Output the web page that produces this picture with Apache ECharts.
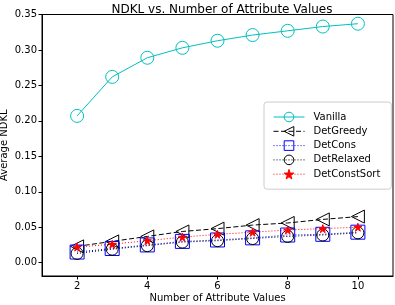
<!DOCTYPE html>
<html><head><meta charset="utf-8">
<script src="https://cdn.jsdelivr.net/npm/echarts@6/dist/echarts.min.js"></script>
<style>html,body{margin:0;padding:0;background:#fff}#c{width:395px;height:305px}</style>
</head><body><div id="c"></div>
<script>
const attrValues = [2, 3, 4, 5, 6, 7, 8, 9, 10];
const vanilla = [0.207, 0.262, 0.289, 0.303, 0.313, 0.321, 0.327, 0.333, 0.337];
const detGreedy = [0.023, 0.030, 0.037, 0.044, 0.048, 0.053, 0.056, 0.061, 0.065];
const detCons = [0.015, 0.020, 0.025, 0.030, 0.032, 0.035, 0.039, 0.040, 0.043];
const detRelaxed = [0.013, 0.019, 0.024, 0.029, 0.031, 0.034, 0.037, 0.039, 0.042];
const detConstSort = [0.022, 0.026, 0.031, 0.036, 0.040, 0.043, 0.046, 0.048, 0.050];
const yTicks = [0, 0.05, 0.10, 0.15, 0.20, 0.25, 0.30, 0.35];
const xTicks = [2, 4, 6, 8, 10];

const pair = arr => attrValues.map((x, i) => [x, arr[i]]);
const font = 'DejaVu Sans';
const star = 'path://M50,0 L61,35 L98,35 L68,57 L79,91 L50,70 L21,91 L32,57 L2,35 L39,35 Z';

function mk(name, data, color, type, symbol, size, rotate, fill) {
  return {
    name, type: 'line', data: pair(data),
    symbol, symbolSize: size, symbolRotate: rotate || 0,
    showSymbol: true,
    lineStyle: { color, width: 1, type },
    itemStyle: { color: fill ? color : 'rgba(255,255,255,0)', borderColor: color, borderWidth: 1 },
    emphasis: { disabled: true },
    animation: false
  };
}

const chart = echarts.init(document.getElementById('c'), null, { renderer: 'canvas' });
chart.setOption({
  animation: false,
  textStyle: { fontFamily: font },
  title: { text: 'NDKL vs. Number of Attribute Values', left: 217, textAlign: 'center', top: -1,
    textStyle: { fontFamily: font, fontSize: 12, fontWeight: 'normal', color: '#000' } },
  grid: { left: 42, top: 14.5, width: 351, height: 261.5, show: true, borderColor: '#000', borderWidth: 1,
    containLabel: false, outerBoundsMode: 'none' },
  xAxis: {
    type: 'value', min: 1, max: 11,
    name: 'Number of Attribute Values', nameLocation: 'middle', nameGap: 17, nameMoveOverlap: false,
    nameTextStyle: { fontFamily: font, fontSize: 10, color: '#000', verticalAlign: 'top' },
    axisLine: { show: true, onZero: false, lineStyle: { color: '#000', width: 1 } },
    axisTick: { show: true, inside: false, length: 3.5, customValues: xTicks, lineStyle: { color: '#000' } },
    axisLabel: { customValues: xTicks, fontFamily: font, fontSize: 10, color: '#000', margin: 5 },
    splitLine: { show: false }
  },
  yAxis: {
    type: 'value', min: -0.0188, max: 0.35,
    name: 'Average NDKL', nameLocation: 'middle', nameGap: 33, nameMoveOverlap: false,
    nameTextStyle: { fontFamily: font, fontSize: 10, color: '#000' },
    axisLine: { show: true, onZero: false, lineStyle: { color: '#000', width: 1 } },
    axisTick: { show: true, length: 3.5, customValues: yTicks, lineStyle: { color: '#000' } },
    axisLabel: { customValues: yTicks, fontFamily: font, fontSize: 10, color: '#000', margin: 5,
      formatter: v => v.toFixed(2) },
    splitLine: { show: false }
  },
  legend: {
    orient: 'vertical', left: 264, top: 102,
    padding: [9, 11, 9, 9], itemGap: 2.3, itemWidth: 31, itemHeight: 12,
    backgroundColor: 'rgba(255,255,255,0.8)', borderColor: '#ccc', borderWidth: 1, borderRadius: 3,
    lineStyle: { width: 1 }, itemStyle: { borderWidth: 1 },
    textStyle: { fontFamily: font, fontSize: 10, color: '#000', padding: [0, 0, 0, 4], lineHeight: 12 },
    data: ['Vanilla', 'DetGreedy', 'DetCons', 'DetRelaxed', 'DetConstSort']
  },
  series: [
    mk('Vanilla', vanilla, '#00bfbf', 'solid', 'circle', 13, 0, false),
    mk('DetGreedy', detGreedy, '#000000', [5, 2.5], 'triangle', 13, 90, false),
    mk('DetCons', detCons, '#0000ff', [1, 2], 'rect', 14, 0, false),
    mk('DetRelaxed', detRelaxed, '#000000', [1, 2], 'circle', 12, 0, false),
    mk('DetConstSort', detConstSort, '#ff0000', [1, 2], star, 8, 0, true)
  ]
});
</script></body></html>
